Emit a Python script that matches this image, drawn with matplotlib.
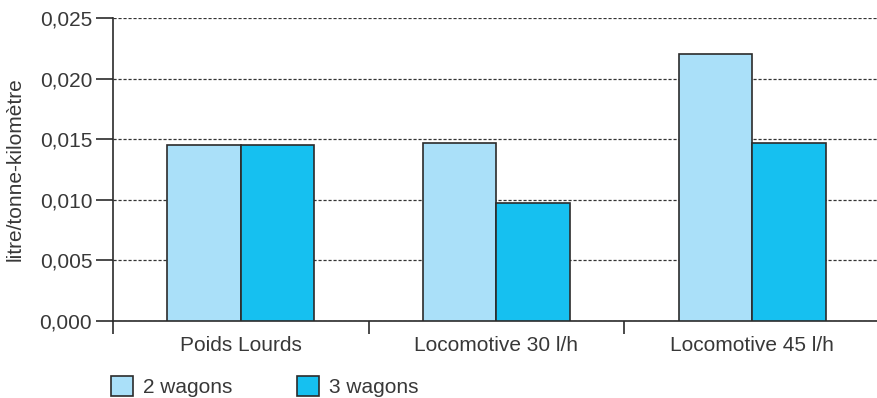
import matplotlib
matplotlib.use("Agg")
from matplotlib import pyplot as plt, patches
import numpy as np

categories = ["Poids Lourds", "Locomotive 30 l/h", "Locomotive 45 l/h"]
series_names = ["2 wagons", "3 wagons"]
two_wagons = [0.0145, 0.0147, 0.0220]
three_wagons = [0.0145, 0.0097, 0.0147]
y_ticks = [0.000, 0.005, 0.010, 0.015, 0.020, 0.025]
y_tick_labels = ["0,000", "0,005", "0,010", "0,015", "0,020", "0,025"]

light = "#aae0f9"
dark = "#16c0f0"
edge = "#2b2b2b"
text_col = "#383838"

plt.rcParams['font.family'] = ['Liberation Sans', 'DejaVu Sans']

W, H = 877, 398
fig = plt.figure(figsize=(W / 100, H / 100), dpi=100)
# axes placed in pixel terms
left, right, top, bottom = 113, 880, 18, 321
ax = fig.add_axes([left / W, 1 - bottom / H, (right - left) / W, (bottom - top) / H])

x = np.arange(len(categories))
bw = 0.287
ax.bar(x - bw / 2, two_wagons, bw, color=light, edgecolor=edge, linewidth=1.2, zorder=3)
ax.bar(x + bw / 2, three_wagons, bw, color=dark, edgecolor=edge, linewidth=1.2, zorder=3)

ax.set_xlim(-0.5, 2.5)
ax.set_ylim(0, 0.025)
ax.set_yticks(y_ticks)
ax.set_yticklabels(y_tick_labels, fontsize=15, color=text_col)
ax.yaxis.grid(True, linestyle=(0, (2.5, 1.5)), color="#333333", linewidth=0.9, zorder=0)
ax.set_axisbelow(True)

# category ticks between groups
ax.set_xticks([-0.5, 0.5, 1.5])
ax.set_xticklabels([])
ax.set_xticks(x, minor=True)
ax.set_xticklabels(categories, minor=True, fontsize=15, color=text_col)
ax.tick_params(axis="x", which="major", direction="out", length=9, width=1.2, color=edge)
ax.tick_params(axis="x", which="minor", length=0, pad=11)
ax.tick_params(axis="y", direction="out", length=12, width=1.2, color=edge, pad=3)

for s in ["top", "right"]:
    ax.spines[s].set_visible(False)
for s in ["left", "bottom"]:
    ax.spines[s].set_color(edge)
    ax.spines[s].set_linewidth(1.2)

ax.set_ylabel("litre/tonne-kilomètre", fontsize=15, color=text_col)
ax.yaxis.set_label_coords((25 - left) / (right - left), 0.5)

# legend at the bottom
handles = [patches.Patch(facecolor=light, edgecolor=edge, linewidth=1.2),
           patches.Patch(facecolor=dark, edgecolor=edge, linewidth=1.2)]
fig.legend(handles, series_names, loc="lower left", bbox_to_anchor=(92 / W, -0.045),
           ncol=2, frameon=False, fontsize=15, handlelength=1.05, handleheight=1.05,
           handletextpad=0.5, columnspacing=3.1, labelcolor=text_col)

fig.savefig("out.png", dpi=100)
